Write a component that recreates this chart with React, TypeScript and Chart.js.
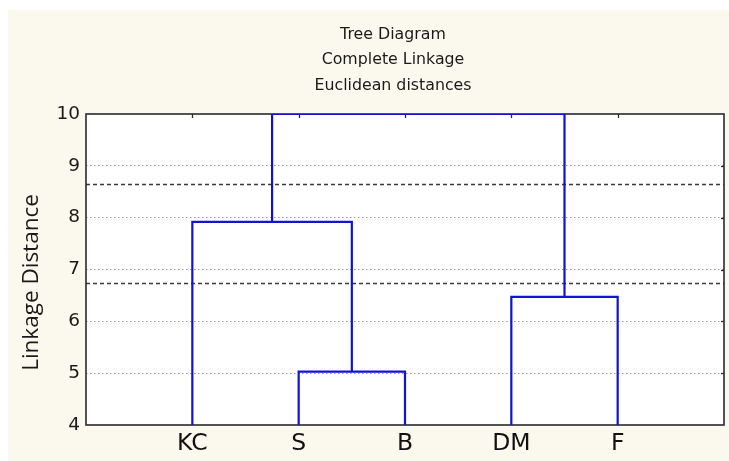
import React, { useEffect, useRef } from 'react';
import { Chart, registerables } from 'chart.js';

Chart.register(...registerables);

// ---- data ----
const leaves = ['KC', 'S', 'B', 'DM', 'F'];
// merges: node ids (0..4 leaves, 5.. merged clusters in order)
const mergeLeft = [1, 3, 0, 7];
const mergeRight = [2, 4, 5, 6];
const mergeHeights = [5.03, 6.47, 7.92, 10.0];
const cutLevels = [8.65, 6.74];
const yMin = 4;
const yMax = 10;
const titleLines = ['Tree Diagram', 'Complete Linkage', 'Euclidean distances'];
const yTitle = 'Linkage Distance';

const BLUE = '#1212d2';

function buildSegments() {
  const nodeX: number[] = leaves.map((_, i) => i + 1);
  const nodeY: number[] = leaves.map(() => yMin);
  const segs: { x: number; y: number }[][] = [];
  mergeHeights.forEach((h, k) => {
    const a = mergeLeft[k];
    const b = mergeRight[k];
    segs.push([
      { x: nodeX[a], y: nodeY[a] },
      { x: nodeX[a], y: h },
      { x: nodeX[b], y: h },
      { x: nodeX[b], y: nodeY[b] },
    ]);
    nodeX.push((nodeX[a] + nodeX[b]) / 2);
    nodeY.push(h);
  });
  return segs;
}

const decorPlugin = {
  id: 'decor',
  beforeDraw(chart: any) {
    const { ctx, chartArea: a } = chart;
    ctx.save();
    ctx.fillStyle = '#ffffff';
    ctx.fillRect(a.left, a.top, a.right - a.left, a.bottom - a.top);
    ctx.restore();
  },
  beforeDatasetsDraw(chart: any) {
    const { ctx, chartArea: a, scales } = chart;
    const ys = scales.y;
    ctx.save();
    ctx.strokeStyle = '#3a3a3a';
    ctx.lineWidth = 1.3;
    ctx.setLineDash([4, 3]);
    cutLevels.forEach((v) => {
      const py = Math.round(ys.getPixelForValue(v)) + 0.5;
      ctx.beginPath();
      ctx.moveTo(a.left, py);
      ctx.lineTo(a.right, py);
      ctx.stroke();
    });
    ctx.setLineDash([]);
    ctx.strokeStyle = '#2a2a2a';
    ctx.lineWidth = 1.6;
    ctx.strokeRect(a.left, a.top, a.right - a.left, a.bottom - a.top);
    ctx.restore();
  },
  afterDatasetsDraw(chart: any) {
    const { ctx, chartArea: a, scales } = chart;
    ctx.save();
    ctx.strokeStyle = '#2a2a2a';
    ctx.lineWidth = 1.3;
    leaves.forEach((_, i) => {
      const px = Math.round(scales.x.getPixelForValue(i + 1)) + 0.5;
      ctx.beginPath();
      ctx.moveTo(px, a.top);
      ctx.lineTo(px, a.top + 4);
      ctx.stroke();
    });
    for (let v = yMin + 1; v < yMax; v++) {
      const py = Math.round(scales.y.getPixelForValue(v)) + 0.5;
      ctx.beginPath();
      ctx.moveTo(a.right - 3, py);
      ctx.lineTo(a.right, py);
      ctx.stroke();
    }
    // titles
    ctx.fillStyle = '#1a1a1a';
    ctx.font = '15.8px "DejaVu Sans"';
    ctx.textAlign = 'center';
    ctx.textBaseline = 'alphabetic';
    const cx = (a.left + a.right) / 2 - 12;
    titleLines.forEach((t, i) => {
      ctx.fillText(t, cx, 28.5 + i * 25.5);
    });
    // y title
    ctx.save();
    ctx.translate(24, (a.top + a.bottom) / 2 + 13);
    ctx.rotate(-Math.PI / 2);
    ctx.font = '22.5px "Open Sans"';
    ctx.textBaseline = 'middle';
    ctx.fillText(yTitle, 0, 0);
    ctx.restore();
    ctx.restore();
  },
};

export default function App() {
  const ref = useRef<HTMLCanvasElement>(null);
  useEffect(() => {
    if (!ref.current) return;
    const segs = buildSegments();
    const chart = new Chart(ref.current, {
      type: 'line',
      data: {
        datasets: segs.map((s) => ({
          data: s,
          borderColor: BLUE,
          borderWidth: 2.2,
          pointRadius: 0,
          fill: false,
          tension: 0,
        })),
      },
      options: {
        animation: false,
        responsive: true,
        maintainAspectRatio: false,
        layout: { padding: { top: 104, right: 5, left: 0, bottom: 0 } },
        plugins: { legend: { display: false }, tooltip: { enabled: false } },
        scales: {
          x: {
            type: 'linear',
            min: 0,
            max: leaves.length + 1,
            afterBuildTicks: (s: any) => {
              s.ticks = leaves.map((_, i) => ({ value: i + 1 }));
            },
            afterFit: (s: any) => {
              s.height = 36;
            },
            grid: { display: false, drawTicks: false },
            border: { display: false },
            ticks: {
              autoSkip: false,
              maxRotation: 0,
              padding: 5,
              color: '#111111',
              font: { family: '"DejaVu Sans"', size: 23.5 },
              callback: (v: any) => leaves[Number(v) - 1] ?? '',
            },
          },
          y: {
            type: 'linear',
            min: yMin,
            max: yMax,
            afterFit: (s: any) => {
              s.width = 78;
            },
            grid: {
              drawTicks: false,
              color: (c: any) =>
                c.tick && (c.tick.value === yMin || c.tick.value === yMax)
                  ? 'rgba(0,0,0,0)'
                  : '#9a9a9a',
              lineWidth: 1,
            },
            border: { display: false, dash: [1.5, 2.5] },
            ticks: {
              stepSize: 1,
              padding: 6,
              color: '#1a1a1a',
              font: { family: '"DejaVu Sans"', size: 18.5 },
            },
          },
        },
      },
      plugins: [decorPlugin],
    });
    return () => chart.destroy();
  }, []);
  return (
    <div
      style={{
        position: 'absolute',
        left: 8,
        top: 10,
        width: 721,
        height: 451,
        background: '#fbf8ee',
      }}
    >
      <canvas ref={ref} />
    </div>
  );
}
